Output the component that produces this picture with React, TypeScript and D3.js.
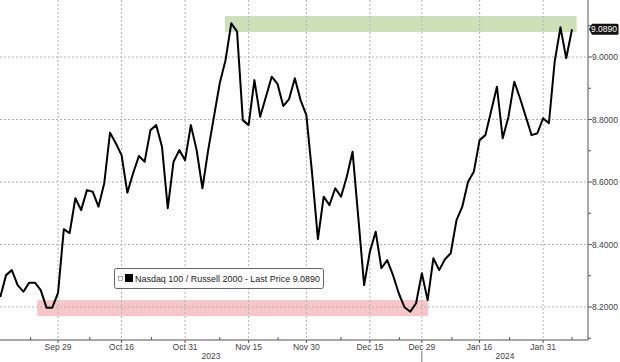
import React from "react";
import * as d3 from "d3";

const dates = [
  "2023-09-15","2023-09-18","2023-09-19","2023-09-20","2023-09-21","2023-09-22","2023-09-25","2023-09-26","2023-09-27","2023-09-28",
  "2023-09-29","2023-10-02","2023-10-03","2023-10-04","2023-10-05","2023-10-06","2023-10-09","2023-10-10","2023-10-11","2023-10-12",
  "2023-10-13","2023-10-16","2023-10-17","2023-10-18","2023-10-19","2023-10-20","2023-10-23","2023-10-24","2023-10-25","2023-10-26",
  "2023-10-27","2023-10-30","2023-10-31","2023-11-01","2023-11-02","2023-11-03","2023-11-06","2023-11-07","2023-11-08","2023-11-09",
  "2023-11-10","2023-11-13","2023-11-14","2023-11-15","2023-11-16","2023-11-17","2023-11-20","2023-11-21","2023-11-22","2023-11-24",
  "2023-11-27","2023-11-28","2023-11-29","2023-11-30","2023-12-01","2023-12-04","2023-12-05","2023-12-06","2023-12-07","2023-12-08",
  "2023-12-11","2023-12-12","2023-12-13","2023-12-14","2023-12-15","2023-12-18","2023-12-19","2023-12-20","2023-12-21","2023-12-22",
  "2023-12-26","2023-12-27","2023-12-28","2023-12-29","2024-01-02","2024-01-03","2024-01-04","2024-01-05","2024-01-08","2024-01-09",
  "2024-01-10","2024-01-11","2024-01-12","2024-01-16","2024-01-17","2024-01-18","2024-01-19","2024-01-22","2024-01-23","2024-01-24",
  "2024-01-25","2024-01-26","2024-01-29","2024-01-30","2024-01-31","2024-02-01","2024-02-02","2024-02-05","2024-02-06","2024-02-07",
];

const values = [
  8.232, 8.302, 8.318, 8.270, 8.249, 8.278, 8.278, 8.254, 8.198, 8.198,
  8.245, 8.449, 8.436, 8.548, 8.510, 8.574, 8.569, 8.521, 8.596, 8.758,
  8.724, 8.686, 8.566, 8.628, 8.683, 8.665, 8.766, 8.782, 8.713, 8.516,
  8.665, 8.702, 8.670, 8.782, 8.702, 8.580, 8.702, 8.809, 8.916, 8.990,
  9.108, 9.081, 8.798, 8.782, 8.926, 8.809, 8.873, 8.937, 8.914, 8.843,
  8.865, 8.932, 8.862, 8.814, 8.626, 8.417, 8.553, 8.526, 8.580, 8.553,
  8.617, 8.697, 8.485, 8.270, 8.377, 8.441, 8.324, 8.350, 8.302, 8.244,
  8.199, 8.185, 8.212, 8.308, 8.222, 8.356, 8.318, 8.353, 8.372, 8.478,
  8.521, 8.601, 8.633, 8.734, 8.750, 8.827, 8.905, 8.740, 8.809, 8.921,
  8.868, 8.809, 8.750, 8.756, 8.804, 8.788, 8.985, 9.095, 8.996, 9.089,
];

const xTickDates = ["2023-09-29","2023-10-16","2023-10-31","2023-11-15","2023-11-30","2023-12-15","2023-12-29","2024-01-16","2024-01-31"];
const xTickLabels = ["Sep 29","Oct 16","Oct 31","Nov 15","Nov 30","Dec 15","Dec 29","Jan 16","Jan 31"];
const xMinorTicks = [5.25, 15.5, 26.2, 38, 48.1, 59, 69.1, 78.2, 88.2, 99];
const yearLabels = ["2023", "2024"];
const yearBoundaryDate = "2023-12-29";

const yMajor = [8.2, 8.4, 8.6, 8.8, 9.0];
const yMinor = [8.1, 8.3, 8.5, 8.7, 8.9, 9.1];

const bandNames = ["high", "low"];
const bandStart = [38.9, 6.4];
const bandEnd = [99.8, 74.1];
const bandLow = [9.080, 8.171];
const bandHigh = [9.131, 8.222];
const bandColors = ["#cde0b8", "#f8c5c8"];

const seriesName = "Nasdaq 100 / Russell 2000 - Last Price 9.0890";
const lastPriceLabel = "9.0890";

const W = 620, H = 362;
const axisX = 588, axisY = 340;
const FONT = "'Liberation Sans', Arial, sans-serif";

export default function App() {
  const x = d3.scaleLinear().domain([0, 99]).range([0.3, 572]);
  const y = d3.scaleLinear().domain([8.2, 9.0]).range([307, 57]);
  const line = d3.line<number>().x((_, i) => x(i)).y((d) => y(d));
  const tickIdx = xTickDates.map((d) => dates.indexOf(d));
  const yb = x(dates.indexOf(yearBoundaryDate));
  const last = values[values.length - 1];
  const ly = y(last);

  return (
    <svg width={W} height={H} style={{ position: "absolute", left: 0, top: 0, background: "#fff" }} fontFamily={FONT}>
      <rect x={0} y={0} width={W} height={H} fill="#fff" />
      {bandNames.map((n, i) => (
        <rect key={n} x={x(bandStart[i])} width={x(bandEnd[i]) - x(bandStart[i])} y={y(bandHigh[i])} height={y(bandLow[i]) - y(bandHigh[i])} fill={bandColors[i]} />
      ))}
      {yMajor.map((v) => (
        <line key={"gy" + v} x1={0} x2={axisX} y1={y(v)} y2={y(v)} stroke="#b4b4b4" strokeWidth={1} strokeDasharray="2,2" />
      ))}
      {tickIdx.map((t, i) => (
        <line key={"gx" + i} x1={x(t)} x2={x(t)} y1={0} y2={axisY} stroke="#b4b4b4" strokeWidth={1} strokeDasharray="2,2" />
      ))}
      <path d={line(values) || ""} fill="none" stroke="#000" strokeWidth={2} strokeLinejoin="round" />
      {/* axes */}
      <line x1={axisX} x2={axisX} y1={0} y2={axisY} stroke="#555" strokeWidth={1} />
      <line x1={0} x2={axisX} y1={axisY} y2={axisY} stroke="#555" strokeWidth={1} />
      {yMajor.map((v) => (
        <g key={"ty" + v}>
          <line x1={axisX} x2={axisX + 4} y1={y(v)} y2={y(v)} stroke="#555" />
          <text x={axisX + 4} y={y(v) + 3} fontSize={8.5} fill="#444">{v.toFixed(4)}</text>
        </g>
      ))}
      {yMinor.map((v) => (
        <line key={"tym" + v} x1={axisX} x2={axisX + 3} y1={y(v)} y2={y(v)} stroke="#555" />
      ))}
      {tickIdx.map((t, i) => (
        <g key={"tx" + i}>
          <line x1={x(t)} x2={x(t)} y1={axisY} y2={axisY + 3} stroke="#555" />
          <text x={x(t)} y={350} fontSize={8.5} fill="#444" textAnchor="middle">{xTickLabels[i]}</text>
        </g>
      ))}
      {xMinorTicks.map((t, i) => (
        <line key={"txm" + i} x1={x(t)} x2={x(t)} y1={axisY - 3} y2={axisY} stroke="#555" />
      ))}
      <line x1={yb} x2={yb} y1={351} y2={H} stroke="#777" />
      <text x={yb / 2} y={359} fontSize={8.5} fill="#444" textAnchor="middle">{yearLabels[0]}</text>
      <text x={(yb + axisX) / 2} y={359} fontSize={8.5} fill="#444" textAnchor="middle">{yearLabels[1]}</text>
      {/* last price label */}
      <path d={`M${axisX + 1},${ly} L${axisX + 4},${ly - 5.5} L${617},${ly - 5.5} Q618.5,${ly - 5.5} 618.5,${ly - 4} L618.5,${ly + 4} Q618.5,${ly + 5.5} 617,${ly + 5.5} L${axisX + 4},${ly + 5.5} Z`} fill="#111" />
      <text x={604} y={ly + 3} fontSize={8.5} fill="#fff" textAnchor="middle">{lastPriceLabel}</text>
      {/* legend */}
      <rect x={114.5} y={268.5} width={209} height={20} rx={2} fill="#fff" stroke="#666" strokeWidth={1} />
      <rect x={118.5} y={276.5} width={4} height={4} fill="#fff" stroke="#999" strokeWidth={0.8} />
      <rect x={125} y={274} width={8} height={8} fill="#000" />
      <text x={135} y={282} fontSize={9.5} fill="#222" textLength={185} lengthAdjust="spacingAndGlyphs">{seriesName}</text>
    </svg>
  );
}
